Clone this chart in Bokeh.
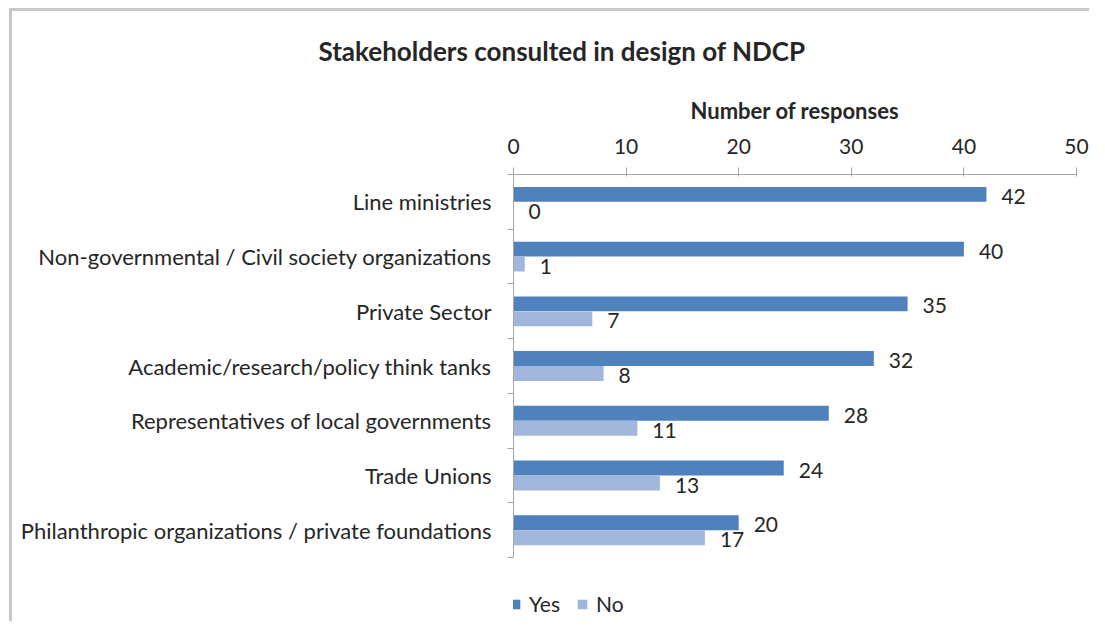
from bokeh.plotting import figure
from bokeh.models import (Range1d, FixedTicker, LinearAxis, ColumnDataSource,
                          Legend, LegendItem, Title, LabelSet)
from bokeh.core.properties import value
from bokeh.embed import file_html
from bokeh.resources import INLINE

categories = [
    "Line ministries",
    "Non-governmental / Civil society organizations",
    "Private Sector",
    "Academic/research/policy think tanks",
    "Representatives of local governments",
    "Trade Unions",
    "Philanthropic organizations / private foundations",
]
yes_values = [42, 40, 35, 32, 28, 24, 20]
no_values = [0, 1, 7, 8, 11, 13, 17]
x_ticks = [0, 10, 20, 30, 40, 50]

FONT = "Lato"
YES_COLOR = "#4F81BD"
NO_COLOR = "#A0B6DB"
TEXT = "#262626"
W, H = 1080, 616

n = len(categories)
centers = [n - 1 - i + 0.5 for i in range(n)]
off = 0.137
bh = 0.273

yes_src = ColumnDataSource(dict(y=[c + off for c in centers], v=yes_values,
                                lab=[str(v) for v in yes_values]))
no_src = ColumnDataSource(dict(y=[c - off for c in centers], v=no_values,
                               lab=[str(v) for v in no_values]))

p = figure(width=W, height=H, output_backend="svg", toolbar_location=None,
           x_range=Range1d(0, 50), y_range=Range1d(-1.166, n),
           x_axis_location=None, y_axis_location=None,
           min_border_left=504, min_border_right=13, min_border_top=160,
           min_border_bottom=0)
p.styles = {"margin-left": "9px", "margin-top": "5px",
            "box-shadow": ("inset 0px 3px 0px 0px #ffffff, "
                           "inset 3px 0px 0px 0px #c8c8c8, "
                           "inset 0px 6px 0px 0px #c8c8c8")}
p.border_fill_alpha = 0
p.background_fill_alpha = 0
p.outline_line_color = None
p.xgrid.visible = False
p.ygrid.visible = False

r_yes = p.hbar(y="y", right="v", left=0, height=bh, source=yes_src,
               fill_color=YES_COLOR, line_color=None)
r_no = p.hbar(y="y", right="v", left=0, height=bh, source=no_src,
              fill_color=NO_COLOR, line_color=None)

for src in (yes_src, no_src):
    p.add_layout(LabelSet(x="v", y="y", text="lab", source=src, x_offset=15, y_offset=-2,
                          text_baseline="middle", text_align="left",
                          text_font=value(FONT), text_font_size="21px",
                          text_color=TEXT))

# top axis
xa = LinearAxis(ticker=FixedTicker(ticks=x_ticks), axis_label="Number of responses")
xa.axis_line_color = "#A6A6A6"
xa.major_tick_line_color = "#A6A6A6"
xa.major_tick_in = 2
xa.major_tick_out = 7
xa.minor_tick_line_color = None
xa.major_label_text_font = FONT
xa.major_label_text_font_size = "21px"
xa.major_label_text_color = TEXT
xa.major_label_standoff = 14
xa.axis_label_text_font = FONT
xa.axis_label_text_font_size = "22px"
xa.axis_label_text_font_style = "bold"
xa.axis_label_text_color = TEXT
xa.axis_label_standoff = 12
p.add_layout(xa, "above")

# left category axis
ya = LinearAxis(ticker=FixedTicker(ticks=centers, minor_ticks=list(range(n + 1))),
                bounds=(0, n))
ya.major_label_overrides = {c: lab for c, lab in zip(centers, categories)}
ya.axis_line_color = "#A6A6A6"
ya.major_tick_line_color = None
ya.major_tick_in = 0
ya.major_tick_out = 0
ya.minor_tick_line_color = "#A6A6A6"
ya.minor_tick_in = 0
ya.minor_tick_out = 6
ya.major_label_text_font = FONT
ya.major_label_text_font_size = "22px"
ya.major_label_text_color = TEXT
ya.major_label_standoff = 16
p.add_layout(ya, "left")

p.add_layout(Title(text="Stakeholders consulted in design of NDCP", align="left",
                   offset=-195, text_font=FONT, text_font_size="26px",
                   text_font_style="bold", text_color=TEXT, standoff=54), "above")

legend = Legend(items=[LegendItem(label="Yes", renderers=[r_yes]),
                       LegendItem(label="No", renderers=[r_no])],
                orientation="horizontal", location=(-4, 5),
                glyph_width=12, glyph_height=12, label_standoff=8, spacing=16,
                padding=0, margin=0, border_line_color=None, background_fill_alpha=0,
                label_text_font=FONT, label_text_font_size="21px",
                label_text_color=TEXT, label_height=12)
p.add_layout(legend)

open("out.html", "w").write(file_html(p, INLINE))
